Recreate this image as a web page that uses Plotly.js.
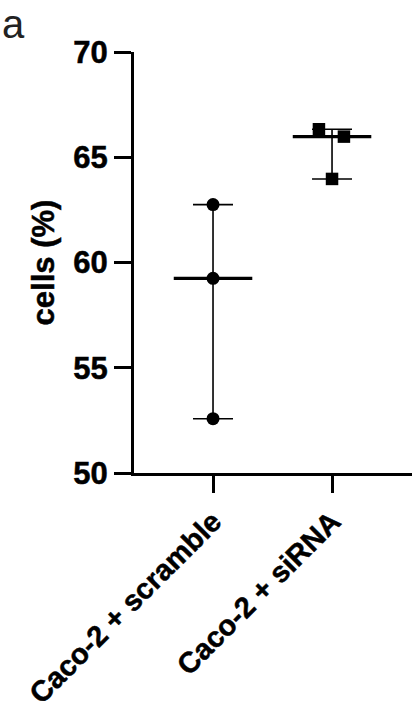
<!DOCTYPE html>
<html>
<head>
<meta charset="utf-8">
<script src="https://cdn.plot.ly/plotly-3.0.1.min.js"></script>
<style>html,body{margin:0;padding:0;background:#fff;}#chart{width:414px;height:713px;}
#chart .xtick text,#chart .ytick text,#chart .ytitle{stroke:#000;stroke-width:0.5px;}</style>
</head>
<body>
<div id="chart"></div>
<script>
// ---- data ----
const categories = ["Caco-2 + scramble", "Caco-2 + siRNA"];
const scrambleValues = [62.75, 59.25, 52.58];
const siRNAValues = [66.33, 65.98, 63.97];
const siRNAJitter = [-0.11, 0.10, 0.0];
const yTickVals = [50, 55, 60, 65, 70];

function median(a){const s=[...a].sort((p,q)=>p-q);const m=Math.floor(s.length/2);return s.length%2?s[m]:(s[m-1]+s[m])/2;}
const groups = [scrambleValues, siRNAValues];
const meds = groups.map(median);
const maxs = groups.map(g=>Math.max(...g));
const mins = groups.map(g=>Math.min(...g));

const F = "Liberation Sans, Arial, Helvetica, sans-serif";

const traces = [
  {
    x: [0, 1], y: meds, type: "scatter", mode: "markers",
    marker: {size: 1, color: "rgba(0,0,0,0)"},
    error_y: {type: "data", symmetric: false,
      array: meds.map((m,i)=>maxs[i]-m), arrayminus: meds.map((m,i)=>m-mins[i]),
      width: 20, thickness: 1.6, color: "#000"},
    error_x: {type: "constant", value: 0.33, width: 0, thickness: 3.2, color: "#000"},
    hoverinfo: "skip", showlegend: false
  },
  {
    x: scrambleValues.map(()=>0), y: scrambleValues, type: "scatter", mode: "markers",
    marker: {symbol: "circle", size: 13, color: "#000"},
    hoverinfo: "skip", showlegend: false
  },
  {
    x: siRNAValues.map((v,i)=>1+siRNAJitter[i]), y: siRNAValues, type: "scatter", mode: "markers",
    marker: {symbol: "square", size: 12.5, color: "#000"},
    hoverinfo: "skip", showlegend: false
  }
];

const layout = {
  width: 414, height: 713,
  margin: {l: 134, r: 2, t: 52, b: 240},
  paper_bgcolor: "#fff", plot_bgcolor: "#fff",
  font: {family: F, color: "#000"},
  xaxis: {
    range: [-0.664, 1.672], tickmode: "array", tickvals: [0, 1], ticktext: categories,
    tickangle: -45, showline: true, linewidth: 3, linecolor: "#000",
    ticks: "outside", ticklen: 17, tickwidth: 3, tickcolor: "#000",
    showgrid: false, zeroline: false,
    tickfont: {family: F, size: 29, weight: "bold", color: "#000"}
  },
  yaxis: {
    range: [50, 70], tickmode: "array", tickvals: yTickVals,
    showline: true, linewidth: 3, linecolor: "#000",
    ticks: "outside", ticklen: 17, tickwidth: 3, tickcolor: "#000",
    showgrid: false, zeroline: false,
    tickfont: {family: F, size: 31, weight: "bold", color: "#000"},
    title: {text: "cells (%)", font: {family: F, size: 31, weight: "bold", color: "#000"}, standoff: 10}
  },
  annotations: [{
    xref: "paper", yref: "paper", x: -134/278, y: 1 + 52/421, xanchor: "left", yanchor: "top",
    text: "a", showarrow: false, font: {family: F, size: 40, color: "#222"}
  }]
};

Plotly.newPlot("chart", traces, layout, {staticPlot: true, displayModeBar: false});
</script>
</body>
</html>
